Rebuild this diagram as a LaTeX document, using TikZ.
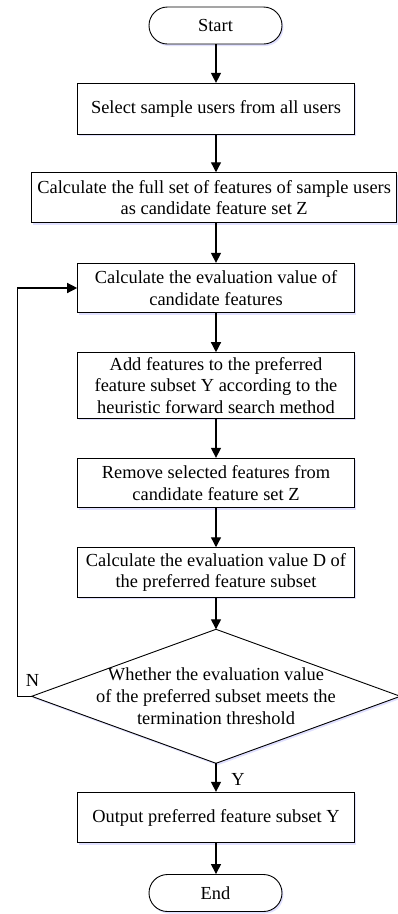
\documentclass[tikz,border=0pt]{standalone}
\usepackage{fontspec}
\setmainfont{Liberation Serif}
\usetikzlibrary{shapes.geometric,arrows.meta,shadows}
\begin{document}
\begin{tikzpicture}[x=1pt,y=-1pt,
  every node/.style={font=\fontsize{18.4}{21.7}\selectfont},
  shade/.style={drop shadow={shadow xshift=1.5pt,shadow yshift=-2pt,fill=blue!35,opacity=0.35}},
  proc/.style={draw,line width=0.9pt,fill=white,shade,align=center,inner sep=0pt,minimum width=276.7pt},
  term/.style={draw,line width=0.9pt,fill=white,shade,rounded rectangle,inner sep=0pt,minimum width=133pt,minimum height=37pt},
  arr/.style={line width=1.3pt,-{Triangle[length=10pt,width=10pt]}}]
\useasboundingbox (0,0) rectangle (397,914);
\tikzset{rounded rectangle/.style={rounded corners=18.5pt,rectangle}}
\node[term] (start) at (215.5,25.5) {Start};
\node[proc,minimum height=50.7pt] (b1) at (216,108.7) {Select sample users from all users};
\node[proc,minimum width=365pt,minimum height=50pt] (b2) at (214.2,197.7) {Calculate the full set of features of sample users\\as candidate feature set Z};
\node[proc,minimum height=49.4pt] (b3) at (216,288) {Calculate the evaluation value of\\candidate features};
\node[proc,minimum height=65.7pt] (b4) at (216,385.5) {Add features to the preferred\\feature subset Y according to the\\heuristic forward search method};
\node[proc,minimum height=49.4pt] (b5) at (216,483) {Remove selected features from\\candidate feature set Z};
\node[proc,minimum height=49.6pt] (b6) at (216,572.5) {Calculate the evaluation value D of\\the preferred feature subset};
\node[diamond,draw,line width=0.9pt,fill=white,shade,inner sep=0pt,outer sep=0pt,minimum width=368.6pt,minimum height=134pt] (dec) at (216,696.3) {};
\node[align=center,inner sep=0pt] (dect) at (dec.center) {Whether the evaluation value\\of the preferred subset meets the\\termination threshold};
\node[proc,minimum height=50.4pt] (b7) at (216,817.5) {Output preferred feature subset Y};
\node[term] (end) at (215.5,893) {End};
\node[inner sep=0pt] (nl) at (32.5,680) {N};
\node[inner sep=0pt] (yl) at (238,779.5) {Y};
\draw[arr] (start.south -| b1.north) -- (b1.north);
\draw[arr] (b1.south) -- (b1.south |- b2.north);
\draw[arr] (b1.south |- b2.south) -- (b3.north);
\draw[arr] (b3) -- (b4);
\draw[arr] (b4) -- (b5);
\draw[arr] (b5) -- (b6);
\draw[arr] (b6.south) -- (dec.north);
\draw[arr] (dec.south) -- (b7.north);
\draw[arr] (b7.south) -- (b7.south |- end.north);
\draw[arr] (dec.west) -- ++(-14.4,0) |- (b3.west);
\end{tikzpicture}
\end{document}
